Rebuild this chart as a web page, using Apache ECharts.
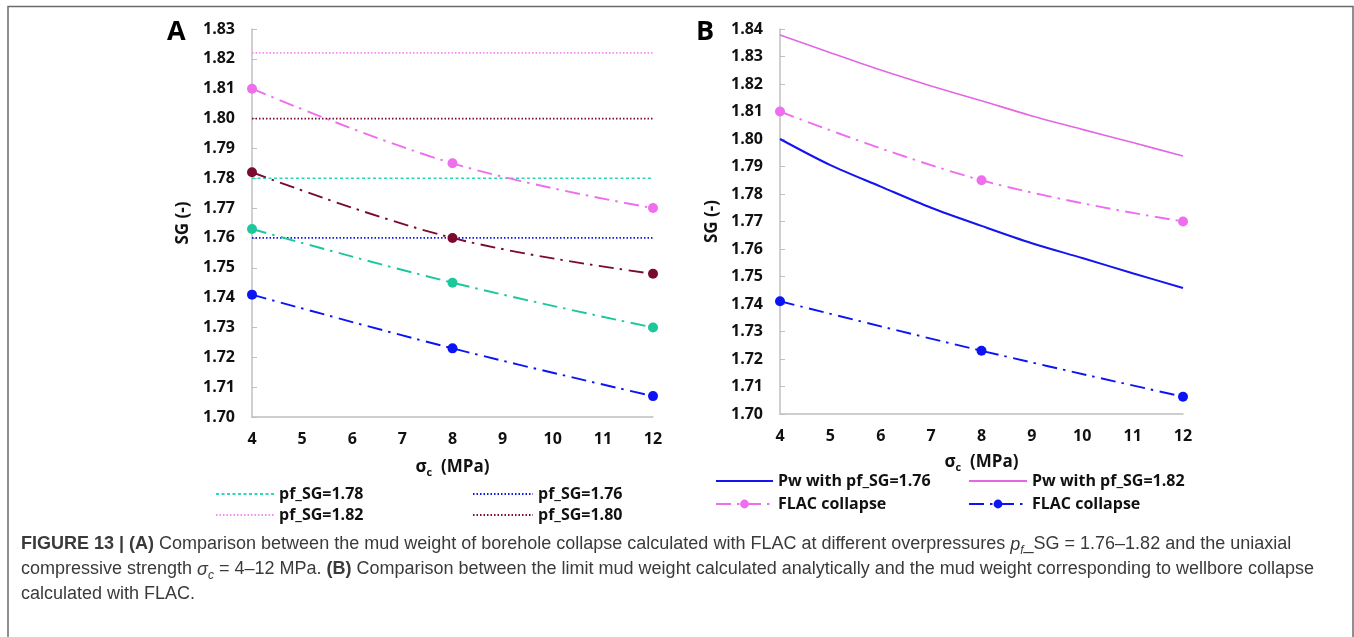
<!DOCTYPE html>
<html>
<head>
<meta charset="utf-8">
<script src="https://cdn.jsdelivr.net/npm/echarts@6/dist/echarts.min.js"></script>
<style>
html,body{margin:0;padding:0;background:#fff;}
#c{width:1354px;height:637px;}
</style>
</head>
<body>
<div id="c"></div>
<script>
// ---- Data ----
const sigmaFLAC = [4, 8, 12];                // MPa
const flacA176 = [1.741, 1.723, 1.707];
const flacA178 = [1.763, 1.745, 1.730];
const flacA180 = [1.782, 1.760, 1.748];
const flacA182 = [1.810, 1.785, 1.770];
const pfLevelNames = ['pf_SG=1.78', 'pf_SG=1.76', 'pf_SG=1.82', 'pf_SG=1.80'];
const pfLevelValues = [1.78, 1.76, 1.822, 1.80];
const pfLevelRange = [4, 12];

const sigmaPw = [4, 5, 6, 7, 8, 9, 10, 11, 12];
const pw176 = [1.800, 1.7905, 1.7827, 1.7750, 1.7684, 1.7621, 1.7567, 1.7512, 1.7458];
const pw182 = [1.8378, 1.8314, 1.8251, 1.8193, 1.8139, 1.8084, 1.8035, 1.7987, 1.7938];
const flacB182 = [1.810, 1.785, 1.770];
const flacB176 = [1.741, 1.723, 1.7063];

const yTicksA = {min: 1.70, max: 1.83, interval: 0.01};
const yTicksB = {min: 1.70, max: 1.84, interval: 0.01};
const xTicks = {min: 4, max: 12, interval: 1};

// ---- Styles ----
const FONT = 'Open Sans';
const PINK = '#EE6EEE', MAROON = '#7A0A2E', TEAL = '#1CC79C', TEAL_L = '#2ED8B8', BLUE = '#0A14F5';
const DASHDOT = [15, 6, 2.5, 6.5];
const pfColors = [TEAL_L, BLUE, '#F58CF5', MAROON];
const pfDash = [[3, 2.5], [1.5, 2], [1.5, 2], [1.5, 2]];

function zip(xs, ys) { return xs.map((x, i) => [x, ys[i]]); }

const axisLabelStyle = {fontFamily: FONT, fontWeight: 'bold', fontSize: 16, color: '#111'};
function yAxis(grid, t, gap) {
  return {
    type: 'value', gridIndex: grid, min: t.min, max: t.max, interval: t.interval,
    name: 'SG (-)', nameLocation: 'middle', nameGap: gap, nameRotate: 90,
    nameTextStyle: {fontFamily: FONT, fontWeight: 'bold', fontSize: 17, color: '#111'},
    axisLine: {show: true, lineStyle: {color: '#bfbfbf', width: 1.5}},
    axisTick: {show: true, inside: true, length: 5, lineStyle: {color: '#bfbfbf'}},
    splitLine: {show: false},
    axisLabel: Object.assign({margin: 17, formatter: v => v.toFixed(2)}, axisLabelStyle)
  };
}
function xAxis(grid, gap) {
  return {
    type: 'value', gridIndex: grid, min: xTicks.min, max: xTicks.max, interval: xTicks.interval,
    name: '{a|σ}{s|c}{a|  (MPa)}', nameLocation: 'middle', nameGap: gap,
    nameTextStyle: {
      fontFamily: FONT, fontWeight: 'bold', fontSize: 17, color: '#111',
      rich: {
        a: {fontFamily: FONT, fontWeight: 'bold', fontSize: 17, color: '#111', lineHeight: 22},
        s: {fontFamily: FONT, fontWeight: 'bold', fontSize: 11, color: '#111', lineHeight: 12, verticalAlign: 'bottom'}
      }
    },
    axisLine: {show: true, onZero: false, lineStyle: {color: '#bfbfbf', width: 1.5}},
    axisTick: {show: false},
    splitLine: {show: false},
    axisLabel: Object.assign({margin: 14}, axisLabelStyle)
  };
}

function flacSeries(name, xi, yi, data, color) {
  return {
    name: name, type: 'line', xAxisIndex: xi, yAxisIndex: yi,
    data: zip(sigmaFLAC, data), smooth: 0.4,
    symbol: 'circle', symbolSize: 10, showSymbol: true,
    itemStyle: {color: color},
    lineStyle: {color: color, width: 1.9, type: DASHDOT},
    z: 3
  };
}

const series = [];
// Panel A horizontal pf lines
pfLevelNames.forEach((n, i) => {
  series.push({
    name: n, type: 'line', xAxisIndex: 0, yAxisIndex: 0,
    data: pfLevelRange.map(x => [x, pfLevelValues[i]]),
    symbol: 'none', itemStyle: {color: pfColors[i]},
    lineStyle: {color: pfColors[i], width: 1.7, type: pfDash[i]}, z: 2
  });
});
series.push(flacSeries('A FLAC 1.82', 0, 0, flacA182, PINK));
series.push(flacSeries('A FLAC 1.80', 0, 0, flacA180, MAROON));
series.push(flacSeries('A FLAC 1.78', 0, 0, flacA178, TEAL));
series.push(flacSeries('A FLAC 1.76', 0, 0, flacA176, BLUE));

// Panel B
series.push({
  name: 'Pw with pf_SG=1.76', type: 'line', xAxisIndex: 1, yAxisIndex: 1,
  data: zip(sigmaPw, pw176), smooth: 0.3, symbol: 'none',
  itemStyle: {color: '#1414F0'}, lineStyle: {color: '#1414F0', width: 2}
});
series.push({
  name: 'Pw with pf_SG=1.82', type: 'line', xAxisIndex: 1, yAxisIndex: 1,
  data: zip(sigmaPw, pw182), smooth: 0.3, symbol: 'none',
  itemStyle: {color: '#E466E4'}, lineStyle: {color: '#E466E4', width: 1.6}
});
series.push(flacSeries('FLAC collapse', 1, 1, flacB182, PINK));
series.push(flacSeries('FLAC collapse ', 1, 1, flacB176, BLUE));

const legendText = {fontFamily: FONT, fontWeight: 'bold', fontSize: 16, color: '#111'};
function leg(name, left, cy, w, marker) {
  const l = {
    data: [name], left: left, top: cy - 7, padding: 0, itemGap: 0,
    itemWidth: w, itemHeight: 11, selectedMode: false, textStyle: legendText
  };
  if (!marker) l.itemStyle = {opacity: 0};
  return l;
}

const option = {
  animation: false,
  grid: [
    {left: 252, top: 29, width: 401, height: 388},
    {left: 780, top: 29, width: 403, height: 385}
  ],
  xAxis: [xAxis(0, 39), xAxis(1, 37)],
  yAxis: [yAxis(0, yTicksA, 60), yAxis(1, yTicksB, 59)],
  legend: [
    leg('pf_SG=1.78', 215, 493, 58, false),
    leg('pf_SG=1.76', 472, 493, 60, false),
    leg('pf_SG=1.82', 215, 514, 58, false),
    leg('pf_SG=1.80', 472, 514, 60, false),
    leg('Pw with pf_SG=1.76', 715, 480, 57, false),
    leg('Pw with pf_SG=1.82', 968, 480, 58, false),
    leg('FLAC collapse', 715, 503, 57, true),
    leg('FLAC collapse ', 968, 503, 58, true)
  ],
  series: series,
  graphic: [
    {type: 'rect', shape: {x: 8, y: 6.5, width: 1345, height: 640},
     style: {fill: 'none', stroke: '#6b6b6b', lineWidth: 1.5}, silent: true},
    {type: 'text', left: 167, top: 19,
     style: {text: 'A', fontFamily: FONT, fontWeight: 'bold', fontSize: 27, fill: '#000'}},
    {type: 'text', left: 696, top: 19,
     style: {text: 'B', fontFamily: FONT, fontWeight: 'bold', fontSize: 27, fill: '#000'}},
    {type: 'text', x: 21, y: 532,
     style: {
       text: '{b|FIGURE 13 | (A)}{n| Comparison between the mud weight of borehole collapse calculated with FLAC at different overpressures }{i|p}{sub|f}{n|_SG = 1.76–1.82 and the uniaxial}\n' +
             '{n|compressive strength }{i|σ}{sub|c}{n| = 4–12 MPa. }{b|(B)}{n| Comparison between the limit mud weight calculated analytically and the mud weight corresponding to wellbore collapse}\n' +
             '{n|calculated with FLAC.}',
       fontFamily: 'Liberation Sans', fontSize: 18, fill: '#3a3a3a', lineHeight: 25,
       rich: {
         n: {fontFamily: 'Liberation Sans', fontSize: 18, fontWeight: 'normal', fill: '#3a3a3a', lineHeight: 25},
         b: {fontFamily: 'Liberation Sans', fontSize: 18, fontWeight: 'bold', fill: '#3a3a3a', lineHeight: 25},
         i: {fontFamily: 'Liberation Sans', fontSize: 18, fontStyle: 'italic', fill: '#3a3a3a', lineHeight: 25},
         sub: {fontFamily: 'Liberation Sans', fontSize: 12, fontStyle: 'italic', fill: '#3a3a3a', lineHeight: 14, verticalAlign: 'bottom'}
       }
     }}
  ]
};

const chart = echarts.init(document.getElementById('c'), null, {renderer: 'canvas'});
chart.setOption(option);
</script>
</body>
</html>
